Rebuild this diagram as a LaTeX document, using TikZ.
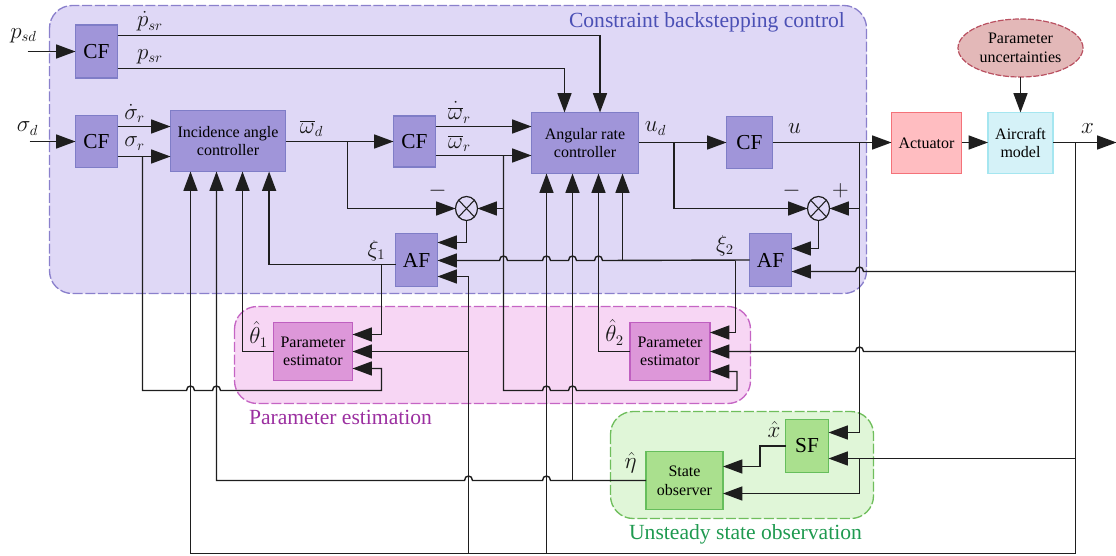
\documentclass[tikz,border=0pt]{standalone}
\usepackage{fontspec}
\setmainfont{Liberation Serif}
\usetikzlibrary{arrows.meta,shapes.geometric}
\definecolor{linec}{HTML}{1E1E1E}
\definecolor{gpbg}{HTML}{DFD8F6}\definecolor{gpln}{HTML}{8A80CC}
\definecolor{ppbg}{HTML}{F7D6F4}\definecolor{ppln}{HTML}{C565C4}
\definecolor{grbg}{HTML}{E0F6D8}\definecolor{grln}{HTML}{6FBE5C}
\definecolor{pubox}{HTML}{A095D9}\definecolor{puln}{HTML}{7F7DC7}
\definecolor{pibox}{HTML}{DD97D9}\definecolor{piln}{HTML}{BF5FC0}
\definecolor{grbox}{HTML}{AAE08E}\definecolor{grbl}{HTML}{66BE5C}
\tikzset{
  x=0.75pt,y=-0.75pt,
  sz/.style 2 args={minimum width=#1*0.75pt,minimum height=#2*0.75pt},
  conn/.style={line width=1.05pt,draw=linec},
  arr/.style={conn,-{Triangle[length=14.5pt,width=10.5pt]}},
  grp/.style={rounded corners=17pt,line width=1pt,dash pattern=on 7.5pt off 2pt,preaction={draw=white,solid}},
  pbox/.style={draw=puln,fill=pubox,line width=1.1pt,inner sep=0pt,outer sep=0pt,align=center},
  mbox/.style={draw=piln,fill=pibox,line width=1.1pt,inner sep=0pt,outer sep=0pt,align=center,font=\fontsize{12}{14}\selectfont},
  gbox/.style={draw=grbl,fill=grbox,line width=1.1pt,inner sep=0pt,outer sep=0pt,align=center},
  big/.style={font=\fontsize{16}{18}\selectfont},
  small/.style={font=\fontsize{12}{14}\selectfont},
  lbl/.style={inner sep=0pt,font=\fontsize{16}{18}\selectfont,text=black!90},
  title/.style={inner sep=0pt,font=\fontsize{16.2}{18}\selectfont},
  mult/.style={ellipse,draw=linec,line width=0.9pt,fill=gpbg,sz={22}{24},inner sep=0pt,outer sep=0pt,
    path picture={\draw[line width=0.8pt,linec] (path picture bounding box.center) ++(-8,-8.5) -- ++(16,17);
                  \draw[line width=0.8pt,linec] (path picture bounding box.center) ++(8,-8.5) -- ++(-16,17);}},
}
\begin{document}
\begin{tikzpicture}
\useasboundingbox (-0.5,-0.5) rectangle (1115.5,555.5);
% groups
\path[grp,fill=gpbg,draw=gpln] (49,5) rectangle (866,293);
\path[grp,fill=ppbg,draw=ppln] (234,306) rectangle (750,403);
\path[grp,fill=grbg,draw=grln] (610,411) rectangle (873,518);
\node[title,text={rgb,255:red,75;green,80;blue,181}] (t1) at (706.5,22) {Constraint backstepping control};
\node[title,text={rgb,255:red,155;green,47;blue,160}] (t2) at (340,416.5) {Parameter estimation};
\node[title,text={rgb,255:red,31;green,154;blue,80}] (t3) at (745,534) {Unsteady state observation};
% boxes
\node[pbox,big,sz={42}{53}] (cfa) at (96,51) {CF};
\node[pbox,big,sz={42}{52}] (cfb) at (96,141) {CF};
\node[pbox,small,sz={115}{61}] (inc) at (227.5,140.5) {Incidence angle\\controller};
\node[pbox,big,sz={42}{51}] (cfc) at (414,141) {CF};
\node[pbox,small,sz={107}{61}] (ang) at (584.5,142.5) {Angular rate\\controller};
\node[pbox,big,sz={46}{52}] (cfd) at (749,142) {CF};
\node[pbox,big,sz={42}{53}] (afa) at (416,259.5) {AF};
\node[pbox,big,sz={42}{53}] (afb) at (770,259.5) {AF};
\node[mult] (mula) at (466,208) {};
\node[mult] (mulb) at (818,208) {};
\node[draw={rgb,255:red,244;green,114;blue,121},fill={rgb,255:red,255;green,189;blue,193},line width=1.1pt,small,inner sep=0pt,outer sep=0pt,sz={70}{61}] (act) at (926,142.5) {Actuator};
\node[draw={rgb,255:red,165;green,230;blue,240},fill={rgb,255:red,213;green,242;blue,248},line width=1.1pt,small,inner sep=0pt,outer sep=0pt,align=center,sz={65}{61}] (air) at (1020,142.5) {Aircraft\\model};
\node[ellipse,draw={rgb,255:red,185;green,80;blue,96},fill={rgb,255:red,227;green,184;blue,184},dash pattern=on 4.5pt off 1.2pt,line width=0.9pt,small,inner sep=0pt,outer sep=0pt,align=center,sz={125}{58}] (unc) at (1020,47.5) {Parameter\\uncertainties};
\node[mbox,sz={79}{58}] (pea) at (312.5,351) {Parameter\\estimator};
\node[mbox,sz={80}{58}] (peb) at (669.5,351) {Parameter\\estimator};
\node[gbox,big,sz={43}{53}] (sf) at (806.5,445.5) {SF};
\node[gbox,small,sz={77}{58}] (obs) at (684,480) {State\\observer};
% named free ends and branch points
\coordinate (inp) at (27,51);
\coordinate (ins) at (29,141);
\coordinate (pdot) at (599.5,35);
\coordinate (pp) at (564,68);
\coordinate (sdot) at (170,126);
\coordinate (sr) at (170,156);
\coordinate (sbr) at (142,156);
\coordinate (wdbr) at (347,141);
\coordinate (wdot) at (531,126);
\coordinate (wbar) at (531,155);
\coordinate (wbr) at (503,155);
\coordinate (udbr) at (673.5,142);
\coordinate (ubr) at (859,142);
\coordinate (xbr) at (1075,142);
\coordinate (xout) at (1116,142);
\coordinate (busa) at (190,553);
\coordinate (busb) at (468,553);
\coordinate (busc) at (546,553);
\coordinate (busd) at (1075,553);
\coordinate (xia) at (381,264);
\coordinate (xib) at (735,260);
\coordinate (xis) at (622,260);
\coordinate (obsb) at (572,480);
% inputs
\draw[arr] (inp) -- (cfa.west);
\draw[arr] (ins) -- (cfb.west);
\draw[arr] (cfa.east |- pdot) -- (pdot) -- (pdot |- ang.north);
\draw[arr] (cfa.east |- pp) -- (pp) -- (pp |- ang.north);
\draw[arr] (cfb.east |- sdot) -- (inc.west |- sdot);
\draw[arr] (cfb.east |- sr) -- (inc.west |- sr);
\draw[arr] (inc.east |- wdbr) -- (cfc.west |- wdbr);
\draw[arr] (cfc.east |- wdot) -- (ang.west |- wdot);
\draw[arr] (cfc.east |- wbar) -- (ang.west |- wbar);
\draw[arr] (ang.east |- udbr) -- (cfd.west |- udbr);
\draw[arr] (cfd.east |- ubr) -- (act.west |- ubr);
\draw[arr] (act.east |- ubr) -- (air.west |- ubr);
\draw[arr] (air.east |- xout) -- (xout);
\draw[arr] (unc.south) -- (air.north);
% error junctions
\draw[arr] (wdbr) -- (wdbr |- mula.west) -- (mula.west);
\draw[arr] (wbr |- mula.east) -- (mula.east);
\draw[arr] (wbr) -- (503,390) -- (542,390) .. controls (542,384) and (550,384) .. (550,390) -- (568,390) .. controls (568,384) and (576,384) .. (576,390) -- (736.5,390) -- (736.5,371) -- (peb.east |- 0,371);
\draw[arr] (udbr) -- (udbr |- mulb.west) -- (mulb.west);
\draw[arr] (ubr |- mulb.east) -- (mulb.east);
\draw[arr] (mula.south) -- (mula.south |- 0,242) -- (afa.east |- 0,242);
\draw[arr] (mulb.south) -- (mulb.south |- 0,248) -- (afb.east |- 0,248);
% sigma_r to estimator 1
\draw[arr] (sbr) -- (142,390) -- (186,390) .. controls (186,384) and (194,384) .. (194,390) -- (212,390) .. controls (212,384) and (220,384) .. (220,390) -- (381,390) -- (381,368) -- (pea.east |- 0,368);
% AF outputs
\draw[arr] (afa.west |- xia) -- (268.6,264) -- (268.6,171);
\draw[arr] (xia) -- (381,334) -- (pea.east |- 0,334);
\draw[arr] (pea.west) -- (242,351) -- (242,171);
\draw[arr] (afb.west) -- (602,260) .. controls (602,254) and (594,254) .. (594,260) -- (576,260) .. controls (576,254) and (568,254) .. (568,260) -- (550,260) .. controls (550,254) and (542,254) .. (542,260) -- (507,260) .. controls (507,254) and (499,254) .. (499,260) -- (afa.east |- 0,260);
\draw[arr] (xis) -- (xis |- ang.south);
\draw[arr] (xib) -- (735,332) -- (peb.east |- 0,332);
\draw[arr] (peb.west) -- (598,351) -- (598,173);
% bus
\draw[conn] (xbr) -- (busd) -- (busa);
\draw[arr] (busa) -- (busa |- inc.south);
\draw[arr] (busc) -- (busc |- ang.south);
\draw[arr] (busb) -- (468,276) -- (afa.east |- 0,276);
\draw[arr] (468,351) -- (pea.east);
\draw[arr] (obs.west) -- (576,480) -- (550,480) .. controls (550,474) and (542,474) .. (542,480) -- (472,480) .. controls (472,474) and (464,474) .. (464,480) -- (216,480) -- (216,171);
\draw[arr] (obsb) -- (obsb |- ang.south);
% feedback from x
\draw[arr] (1075,271) -- (863,271) .. controls (863,265) and (855,265) .. (855,271) -- (afb.east |- 0,271);
\draw[arr] (1075,351) -- (863,351) .. controls (863,345) and (855,345) .. (855,351) -- (peb.east);
\draw[arr] (ubr) -- (859,432) -- (sf.east |- 0,432);
\draw[arr] (1075,458) -- (sf.east |- 0,458);
\draw[arr] (859,458) -- (859,493) -- (obs.east |- 0,493);
\draw[arr] (sf.west) -- (759.5,445.5) -- (759.5,466) -- (obs.east |- 0,466);
% labels
\node[lbl] (l1) at (23,35) {$p_{sd}$};
\node[lbl] (l2) at (27,128) {$\sigma_d$};
\node[lbl] (l3) at (149.5,21) {$\dot{p}_{sr}$};
\node[lbl] (l4) at (149.5,56) {$p_{sr}$};
\node[lbl] (l5) at (134,113) {$\dot{\sigma}_r$};
\node[lbl] (l6) at (134,143) {$\sigma_r$};
\node[lbl] (l7) at (311,128) {$\overline{\omega}_d$};
\node[lbl] (l8) at (459,112) {$\dot{\overline{\omega}}_r$};
\node[lbl] (l9) at (459,143) {$\overline{\omega}_r$};
\node[lbl] (l10) at (437,190) {$-$};
\node[lbl] (l11) at (376,250) {$\xi_1$};
\node[lbl] (l12) at (655,128) {$u_d$};
\node[lbl] (l13) at (794,128) {$u$};
\node[lbl] (l14) at (791,190) {$-$};
\node[lbl] (l15) at (840,190) {$+$};
\node[lbl] (l16) at (724.5,245) {$\xi_2$};
\node[lbl] (l17) at (1087,128) {$x$};
\node[lbl] (l18) at (258,334) {$\hat{\theta}_1$};
\node[lbl] (l19) at (614,332) {$\hat{\theta}_2$};
\node[lbl] (l20) at (630,462) {$\hat{\eta}$};
\node[lbl] (l21) at (773.5,429) {$\hat{x}$};
\end{tikzpicture}
\end{document}
